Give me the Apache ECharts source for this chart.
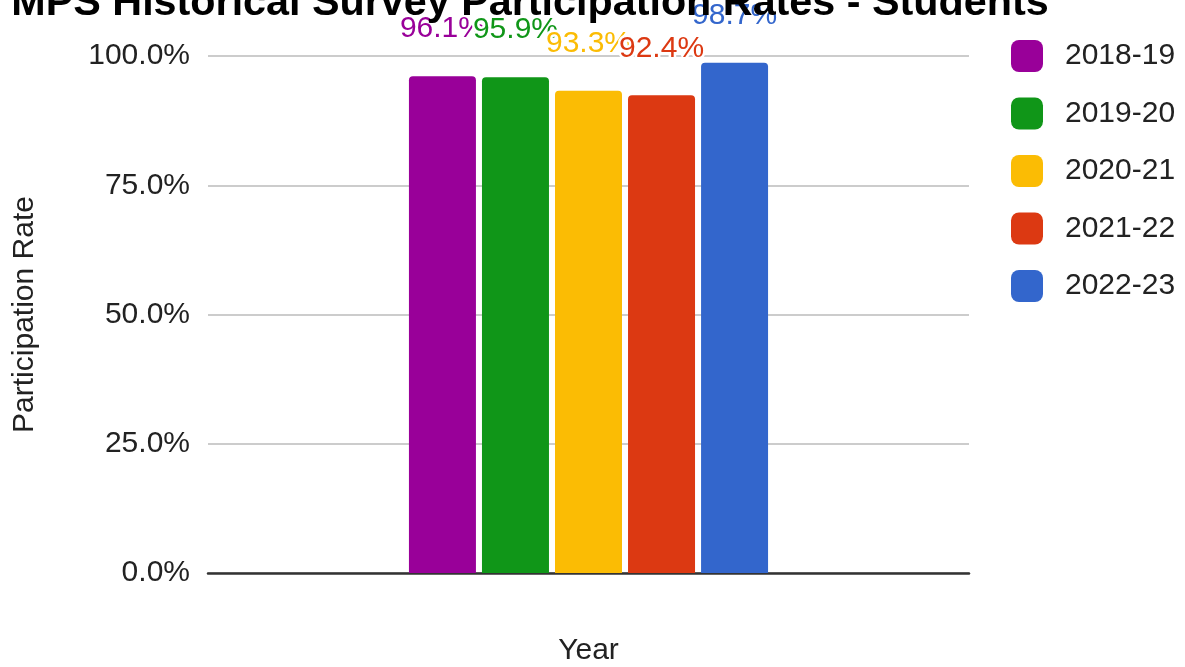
<!DOCTYPE html>
<html>
<head>
<meta charset="utf-8">
<title>MPS Historical Survey Participation Rates - Students</title>
<script src="https://cdn.jsdelivr.net/npm/echarts@6/dist/echarts.min.js"></script>
<style>
  html, body { margin: 0; padding: 0; background: #fff; }
  #chart { width: 1185px; height: 667px; }
</style>
</head>
<body>
<div id="chart"></div>
<script>
// School years shown as separate series within a single category
const years = ['2018-19', '2019-20', '2020-21', '2021-22', '2022-23'];
// Student participation rate per year, in percent
const rates = [96.1, 95.9, 93.3, 92.4, 98.7];
const yearColors = ['#990099', '#109618', '#fbbc04', '#dc3912', '#3366cc'];
const yTicks = [0, 25, 50, 75, 100];

const FONT = '"Liberation Sans", Arial, sans-serif';

const series = years.map((y, i) => ({
  name: y,
  type: 'bar',
  data: [rates[i]],
  barWidth: 67,
  barGap: '9%',
  itemStyle: { color: yearColors[i], borderRadius: [4, 4, 0, 0] },
  label: {
    show: true,
    position: 'top',
    distance: 32,
    formatter: p => p.value.toFixed(1) + '%',
    color: yearColors[i],
    fontFamily: FONT,
    fontSize: 30,
    textBorderColor: '#fff',
    textBorderWidth: 5
  },
  emphasis: { disabled: true }
}));

const chart = echarts.init(document.getElementById('chart'), null, { renderer: 'canvas' });
chart.setOption({
  animation: false,
  backgroundColor: '#fff',
  title: {
    text: 'MPS Historical Survey Participation Rates - Students',
    left: 525,
    top: -22,
    textAlign: 'center',
    textStyle: { fontFamily: FONT, fontSize: 41.3, fontWeight: 'bold', color: '#000' }
  },
  legend: {
    orient: 'vertical',
    left: 1006,
    top: 35,
    itemWidth: 32,
    itemHeight: 32,
    itemGap: 25.5,
    icon: 'roundRect',
    data: years,
    textStyle: { fontFamily: FONT, fontSize: 30, color: '#222', padding: [0, 0, 0, 17] },
    selectedMode: false
  },
  grid: { left: 208, right: 216, top: 56, bottom: 94, outerBoundsMode: 'none' },
  xAxis: {
    type: 'category',
    data: [''],
    name: 'Year',
    nameLocation: 'middle',
    nameGap: 63,
    nameTextStyle: { fontFamily: FONT, fontSize: 30, color: '#222' },
    axisTick: { show: false },
    axisLabel: { show: false },
    axisLine: { lineStyle: { color: '#333', width: 2.5 } }
  },
  yAxis: {
    type: 'value',
    min: yTicks[0],
    max: yTicks[yTicks.length - 1],
    interval: 25,
    name: 'Participation Rate',
    nameLocation: 'middle',
    nameGap: 168,
    nameTextStyle: { fontFamily: FONT, fontSize: 30, color: '#222' },
    axisLine: { show: false },
    axisTick: { show: false },
    axisLabel: {
      margin: 18,
      formatter: v => v.toFixed(1) + '%',
      fontFamily: FONT,
      fontSize: 30,
      color: '#222'
    },
    splitLine: { lineStyle: { color: '#cccccc', width: 2 } }
  },
  series: series
});
</script>
</body>
</html>
